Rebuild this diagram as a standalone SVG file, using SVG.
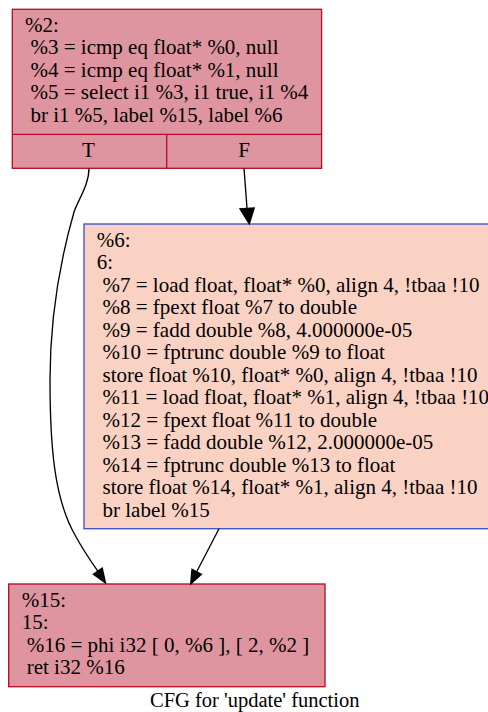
<svg xmlns="http://www.w3.org/2000/svg" width="488" height="712" viewBox="0 0 488 712">
<style>
text{font-family:"Liberation Serif","Times New Roman",serif;font-size:21px;fill:#000}
.title{font-size:20.5px}
.hot{fill:#df95a0;stroke:#b70d28;stroke-width:1.33}
.warm{fill:#fad2c4;stroke:#3d50c3;stroke-width:1.33}
.edge{fill:none;stroke:#000;stroke-width:1.33}
.head{fill:#000;stroke:#000;stroke-width:1.33}
</style>
<rect width="488" height="712" fill="#fff"/>
<g id="node2">
<rect class="hot" x="12.3" y="9.3" width="309.3" height="159"/>
<line class="hot" x1="12.3" y1="134.3" x2="321.6" y2="134.3"/>
<line class="hot" x1="166.7" y1="134.3" x2="166.7" y2="168.3"/>
<text x="25" y="31.8">%2:</text>
<text x="30.5" y="54.3">%3 = icmp eq float* %0, null</text>
<text x="30.5" y="76.8">%4 = icmp eq float* %1, null</text>
<text x="30.5" y="99.3">%5 = select i1 %3, i1 true, i1 %4</text>
<text x="30.5" y="121.8">br i1 %5, label %15, label %6</text>
<text x="88.5" y="156.7" text-anchor="middle">T</text>
<text x="244" y="156.7" text-anchor="middle">F</text>
</g>
<g id="node6">
<rect class="warm" x="84" y="224" width="410" height="304.7"/>
<text x="96.7" y="246.5">%6:</text>
<text x="96.7" y="269">6:</text>
<text x="102.5" y="291.5">%7 = load float, float* %0, align 4, !tbaa !10</text>
<text x="102.5" y="314">%8 = fpext float %7 to double</text>
<text x="102.5" y="336.5">%9 = fadd double %8, 4.000000e-05</text>
<text x="102.5" y="359">%10 = fptrunc double %9 to float</text>
<text x="102.5" y="381.5">store float %10, float* %0, align 4, !tbaa !10</text>
<text x="102.5" y="404">%11 = load float, float* %1, align 4, !tbaa !10</text>
<text x="102.5" y="426.5">%12 = fpext float %11 to double</text>
<text x="102.5" y="449">%13 = fadd double %12, 2.000000e-05</text>
<text x="102.5" y="471.5">%14 = fptrunc double %13 to float</text>
<text x="102.5" y="494">store float %14, float* %1, align 4, !tbaa !10</text>
<text x="102.5" y="516.5">br label %15</text>
</g>
<g id="node15">
<rect class="hot" x="8.7" y="584" width="316.3" height="102.7"/>
<text x="21.7" y="606.7">%15:</text>
<text x="21.7" y="629.2">15:</text>
<text x="26.7" y="651.7">%16 = phi i32 [ 0, %6 ], [ 2, %2 ]</text>
<text x="26.7" y="674.2">ret i32 %16</text>
</g>
<g id="edges">
<path class="edge" d="M89,168.3 C89,185 78,200 74,212 C66,240 50,300 50,380 C50,450 55,500 75,535 C82,548 90,560 97.8,571.2"/>
<polygon class="head" points="102.2,568 105.5,583 93.4,574.2"/>
<path class="edge" d="M244,168.3 C245,180 246,195 247,208.5"/>
<polygon class="head" points="254.2,208 249.3,224 240,208.8"/>
<path class="edge" d="M219,528.7 L196.7,571.8"/>
<polygon class="head" points="201.5,574.3 190.7,584 192,569.2"/>
</g>
<text class="title" x="150" y="706.7">CFG for 'update' function</text>
</svg>
